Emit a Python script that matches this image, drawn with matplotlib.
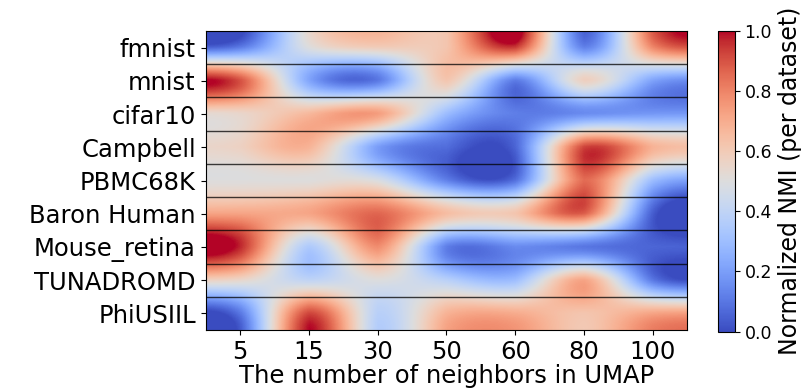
import matplotlib
matplotlib.use('Agg')
import matplotlib.pyplot as plt
import numpy as np

datasets = ['fmnist', 'mnist', 'cifar10', 'Campbell', 'PBMC68K',
            'Baron Human', 'Mouse_retina', 'TUNADROMD', 'PhiUSIIL']
neighbors = [5, 15, 30, 50, 60, 80, 100]

# normalized NMI per dataset (rows) vs n_neighbors (columns)
fmnist = [0.1, 0.5, 0.6, 0.62, 0.95, 0.12, 0.8]
mnist = [0.9, 0.22, 0.1, 0.62, 0.12, 0.58, 0.22]
cifar10 = [0.55, 0.66, 0.74, 0.3, 0.12, 0.15, 0.18]
campbell = [0.57, 0.68, 0.2, 0.08, 0.06, 0.92, 0.68]
pbmc68k = [0.5, 0.5, 0.48, 0.12, 0.08, 0.85, 0.3]
baron = [0.72, 0.72, 0.86, 0.65, 0.62, 0.88, 0.04]
mouse = [0.97, 0.35, 0.78, 0.12, 0.15, 0.1, 0.06]
tuna = [0.55, 0.4, 0.5, 0.38, 0.3, 0.72, 0.1]
phiusiil = [0.1, 0.92, 0.38, 0.68, 0.7, 0.62, 0.72]


def plot():
    data = np.array([fmnist, mnist, cifar10, campbell, pbmc68k,
                     baron, mouse, tuna, phiusiil])
    fig = plt.figure(figsize=(8.03, 3.92), dpi=100)
    ax = fig.add_axes([0.256, 0.158, 0.6, 0.763])
    im = ax.imshow(data, cmap='coolwarm', aspect='auto', vmin=0, vmax=1,
                   interpolation='spline16', interpolation_stage='data')
    for y in np.arange(0.5, len(datasets) - 1, 1.0):
        ax.axhline(y, color='k', lw=1.0, alpha=0.75)
    ax.set_xticks(range(len(neighbors)))
    ax.set_xticklabels([str(n) for n in neighbors], fontsize=17.5)
    ax.set_yticks(range(len(datasets)))
    ax.set_yticklabels(datasets, fontsize=17.5)
    ax.set_xlabel('The number of neighbors in UMAP', fontsize=17.5, labelpad=0)

    cax = fig.add_axes([0.894, 0.154, 0.021, 0.768])
    cb = fig.colorbar(im, cax=cax)
    cb.set_ticks([0, 0.2, 0.4, 0.6, 0.8, 1.0])
    cb.ax.tick_params(labelsize=12.5)
    cb.set_label('Normalized NMI (per dataset)', fontsize=17, labelpad=4)
    return fig


if __name__ == '__main__':
    fig = plot()
    fig.savefig('out.png', dpi=100)
